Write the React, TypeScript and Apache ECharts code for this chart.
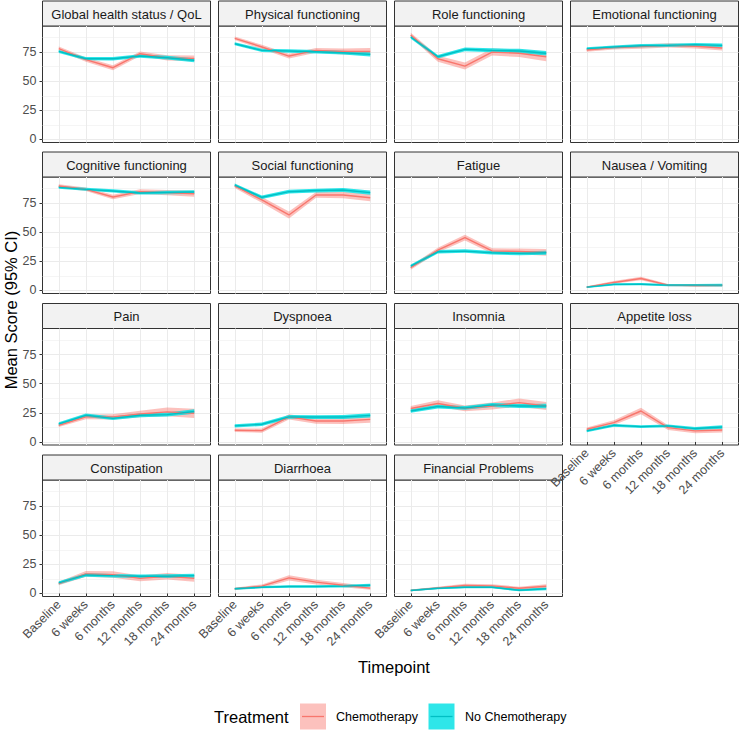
import React, { useEffect, useRef } from "react";
import * as echarts from "echarts";

const domains = [
  "Global health status / QoL",
  "Physical functioning",
  "Role functioning",
  "Emotional functioning",
  "Cognitive functioning",
  "Social functioning",
  "Fatigue",
  "Nausea / Vomiting",
  "Pain",
  "Dyspnoea",
  "Insomnia",
  "Appetite loss",
  "Constipation",
  "Diarrhoea",
  "Financial Problems",
];

const timepoints = ["Baseline", "6 weeks", "6 months", "12 months", "18 months", "24 months"];
const xTicks = [1, 2, 3, 4, 5, 6];
const yMajorTicks = [0, 25, 50, 75];
const yMinorTicks = [12.5, 37.5, 62.5, 87.5];

const chemoMean = [
  [78, 68.5, 61.6, 73.6, 70, 69.6],
  [86.8, 79.4, 71.6, 76.5, 75.5, 75.5],
  [89.7, 69.3, 63, 75, 74, 71],
  [76.8, 78.8, 79.7, 80.8, 80, 78.5],
  [89.7, 86.8, 80.2, 84.8, 84, 83],
  [89.7, 77.7, 64.8, 82, 82, 79.6],
  [19.5, 34.7, 45.3, 34, 33.5, 32.7],
  [2.9, 6.9, 10.3, 4.6, 4.3, 4.4],
  [14.3, 21.5, 21.5, 24, 25.8, 24.6],
  [10, 9.7, 21.5, 18, 18, 19.4],
  [28.7, 33, 28.9, 30.9, 33.8, 30.9],
  [10.9, 16.6, 26.6, 12.3, 9.5, 10.3],
  [8.5, 16.8, 16.2, 13, 14.8, 13],
  [4, 6.3, 13.4, 9.7, 7.1, 4.6],
  [2.6, 4.8, 6.8, 6.5, 4.5, 6.2],
];

const chemoHalfCI = [
  [1.8, 1.8, 2.2, 2, 2.3, 2.5],
  [1.5, 1.8, 2, 2, 2.5, 3],
  [2, 2.5, 3, 3, 3.3, 3.8],
  [1.5, 1.5, 1.8, 1.8, 2, 2.2],
  [1.5, 1.5, 2, 2, 2.2, 2.5],
  [1.8, 2.5, 3, 2.5, 2.8, 3],
  [1.8, 2, 2.5, 2.3, 2.5, 2.8],
  [0.8, 1.2, 1.5, 1, 1, 1.2],
  [1.5, 2, 2.3, 2.8, 3.8, 4],
  [1.5, 1.8, 2.3, 2.3, 2.5, 2.8],
  [2.2, 2.8, 2.5, 3, 3.5, 3.5],
  [1.5, 2, 2.8, 2, 2, 2.2],
  [1.5, 2.5, 2.8, 2.5, 2.8, 3],
  [1, 1.5, 2.2, 2, 1.8, 1.5],
  [0.8, 1, 1.5, 1.5, 1.3, 1.8],
];

const noChemoMean = [
  [75.6, 69.3, 69.3, 71.6, 70.2, 68],
  [82.2, 76.5, 75.9, 75.3, 74.5, 73],
  [88, 71, 77.4, 76.5, 76, 74],
  [78, 79.4, 80.5, 80.8, 81.4, 80.8],
  [88.5, 86.8, 85.4, 83.7, 84.2, 84.5],
  [90.5, 80, 84.8, 85.8, 86.3, 84],
  [21, 33.2, 33.8, 32.4, 31.8, 32.4],
  [2.9, 5.2, 5.4, 4.6, 4.6, 4.6],
  [15.5, 22.9, 20.3, 22.9, 23.5, 26.1],
  [13.8, 15.2, 21.5, 21.4, 21.4, 22.8],
  [26.6, 30.4, 29.2, 31.8, 30.9, 30.9],
  [9.5, 14.3, 13.2, 13.8, 11.5, 12.9],
  [9.1, 15.9, 15.3, 14.8, 14.8, 15.3],
  [4, 5.4, 6, 6, 6.3, 7.1],
  [2.6, 4.5, 5.4, 5.4, 2.8, 4],
];

const noChemoHalfCI = [
  [1.3, 1.4, 1.5, 1.5, 1.6, 1.7],
  [1.3, 1.4, 1.5, 1.5, 1.6, 1.8],
  [1.5, 1.5, 1.6, 1.7, 1.8, 1.9],
  [1.2, 1.3, 1.4, 1.4, 1.5, 1.6],
  [1.2, 1.3, 1.4, 1.4, 1.5, 1.6],
  [1.4, 1.5, 1.6, 1.6, 1.7, 1.9],
  [1.4, 1.5, 1.5, 1.5, 1.6, 1.7],
  [0.8, 1, 1, 1, 1, 1.1],
  [1.4, 1.5, 1.5, 1.6, 1.7, 1.9],
  [1.4, 1.5, 1.6, 1.6, 1.7, 1.8],
  [1.5, 1.6, 1.6, 1.7, 1.8, 1.9],
  [1.1, 1.2, 1.2, 1.2, 1.3, 1.5],
  [1.3, 1.5, 1.5, 1.5, 1.6, 1.7],
  [0.9, 1, 1, 1, 1.1, 1.3],
  [0.8, 0.9, 1, 1, 1, 1.2],
];

const FONT = "'Liberation Sans', Arial, Helvetica, sans-serif";
const CHEMO_LINE = "#F8766D";
const CHEMO_FILL = "rgba(248,118,109,0.45)";
const NOCHEMO_LINE = "#00BFC4";
const NOCHEMO_FILL = "rgba(0,224,228,0.82)";

const colLeft = [42.5, 218.5, 394.5, 570.5];
const stripTop = [1, 152, 303.5, 455];
const PANEL_W = 168;
const STRIP_H = 25;
const PANEL_H = 116.5;

function ribbon(mean: number[], ci: number[], fill: string, gridIdx: number) {
  return {
    type: "custom",
    xAxisIndex: gridIdx,
    yAxisIndex: gridIdx * 2,
    clip: true,
    silent: true,
    data: [[1, mean[0]]],
    renderItem: (_params: any, api: any) => {
      const pts: number[][] = [];
      for (let i = 0; i < mean.length; i++) pts.push(api.coord([xTicks[i], mean[i] + ci[i]]));
      for (let i = mean.length - 1; i >= 0; i--) pts.push(api.coord([xTicks[i], mean[i] - ci[i]]));
      return { type: "polygon", shape: { points: pts }, style: { fill } };
    },
  };
}

function line(mean: number[], color: string, gridIdx: number) {
  return {
    type: "line",
    xAxisIndex: gridIdx,
    yAxisIndex: gridIdx * 2,
    symbol: "none",
    silent: true,
    data: mean.map((v, i) => [xTicks[i], v]),
    lineStyle: { color, width: 1.4 },
    itemStyle: { color },
  };
}

export default function App() {
  const ref = useRef<HTMLDivElement>(null);
  useEffect(() => {
    if (!ref.current) return;
    const chart = echarts.init(ref.current, undefined, { renderer: "svg" });
    const grid: any[] = [];
    const xAxis: any[] = [];
    const yAxis: any[] = [];
    const series: any[] = [];
    const graphic: any[] = [];

    domains.forEach((name, p) => {
      const row = Math.floor(p / 4);
      const col = p % 4;
      const left = colLeft[col];
      const top = stripTop[row] + STRIP_H;
      const isBottom = p >= 11;
      const isLeft = col === 0;
      grid.push({
        left,
        top,
        width: PANEL_W,
        height: PANEL_H,
        show: true,
        backgroundColor: "#FFFFFF",
        borderColor: "#333333",
        borderWidth: 1,
        containLabel: false,
      });
      xAxis.push({
        type: "value",
        gridIndex: p,
        min: 0.4,
        max: 6.6,
        axisLine: { show: false },
        axisTick: { show: isBottom, length: 3, customValues: xTicks, lineStyle: { color: "#333333", width: 1 } },
        axisLabel: {
          show: isBottom,
          customValues: xTicks,
          rotate: 45,
          margin: 6,
          color: "#4D4D4D",
          fontSize: 12.5,
          fontFamily: FONT,
          formatter: (v: number) => timepoints[Math.round(v) - 1] ?? "",
        },
        splitLine: { show: true, lineStyle: { color: "#EBEBEB", width: 1 } },
      });
      yAxis.push({
        type: "value",
        gridIndex: p,
        min: -2.6,
        max: 97.4,
        position: "left",
        axisLine: { show: false },
        axisTick: { show: isLeft, length: 3, customValues: yMajorTicks, lineStyle: { color: "#333333", width: 1 } },
        axisLabel: {
          show: isLeft,
          customValues: yMajorTicks,
          margin: 6,
          color: "#4D4D4D",
          fontSize: 12.5,
          fontFamily: FONT,
        },
        splitLine: { show: true, lineStyle: { color: "#EBEBEB", width: 1 } },
      });
      yAxis.push({
        type: "value",
        gridIndex: p,
        min: -2.6,
        max: 97.4,
        position: "left",
        axisLine: { show: false },
        axisTick: { show: false, customValues: yMinorTicks },
        axisLabel: { show: false, customValues: yMinorTicks },
        splitLine: { show: true, lineStyle: { color: "#EFEFEF", width: 0.6 } },
      });
      series.push(ribbon(chemoMean[p], chemoHalfCI[p], CHEMO_FILL, p));
      series.push(ribbon(noChemoMean[p], noChemoHalfCI[p], NOCHEMO_FILL, p));
      series.push(line(chemoMean[p], CHEMO_LINE, p));
      series.push(line(noChemoMean[p], NOCHEMO_LINE, p));

      graphic.push({
        type: "rect",
        shape: { x: left, y: stripTop[row], width: PANEL_W, height: STRIP_H },
        style: { fill: "#F2F2F2", stroke: "#333333", lineWidth: 1 },
      });
      graphic.push({
        type: "text",
        x: left + PANEL_W / 2,
        y: stripTop[row] + STRIP_H / 2 + 0.5,
        style: {
          text: name,
          fontSize: 13,
          fontFamily: FONT,
          fill: "#1A1A1A",
          textAlign: "center",
          textVerticalAlign: "middle",
          align: "center",
          verticalAlign: "middle",
        },
      });
    });

    graphic.push({
      type: "text",
      x: 11,
      y: 310,
      rotation: Math.PI / 2,
      style: {
        text: "Mean Score (95% CI)",
        fontSize: 16.5,
        fontFamily: FONT,
        fill: "#000000",
        textAlign: "center",
        textVerticalAlign: "middle",
        align: "center",
        verticalAlign: "middle",
      },
    });
    graphic.push({
      type: "text",
      x: 394,
      y: 667,
      style: {
        text: "Timepoint",
        fontSize: 16.5,
        fontFamily: FONT,
        fill: "#000000",
        textAlign: "center",
        textVerticalAlign: "middle",
        align: "center",
        verticalAlign: "middle",
      },
    });

    const legendY = 716.5;
    graphic.push({
      type: "text",
      x: 214,
      y: legendY,
      style: {
        text: "Treatment",
        fontSize: 16.5,
        fontFamily: FONT,
        fill: "#000000",
        textAlign: "left",
        textVerticalAlign: "middle",
        align: "left",
        verticalAlign: "middle",
      },
    });
    const keys = [
      { x: 300, fill: CHEMO_FILL, stroke: CHEMO_LINE, label: "Chemotherapy", lx: 336 },
      { x: 428.5, fill: NOCHEMO_FILL, stroke: NOCHEMO_LINE, label: "No Chemotherapy", lx: 465 },
    ];
    keys.forEach((k) => {
      graphic.push({
        type: "rect",
        shape: { x: k.x, y: legendY - 13, width: 26, height: 26 },
        style: { fill: k.fill },
      });
      graphic.push({
        type: "line",
        shape: { x1: k.x + 2, y1: legendY, x2: k.x + 24, y2: legendY },
        style: { stroke: k.stroke, lineWidth: 1.3 },
      });
      graphic.push({
        type: "text",
        x: k.lx,
        y: legendY,
        style: {
          text: k.label,
          fontSize: 12.5,
          fontFamily: FONT,
          fill: "#000000",
          textAlign: "left",
          textVerticalAlign: "middle",
          align: "left",
          verticalAlign: "middle",
        },
      });
    });

    chart.setOption({
      animation: false,
      backgroundColor: "#FFFFFF",
      grid,
      xAxis,
      yAxis,
      series,
      graphic,
    });
    return () => chart.dispose();
  }, []);
  return (
    <div
      ref={ref}
      style={{ position: "fixed", left: 0, top: 0, width: 740, height: 731, background: "#FFFFFF" }}
    />
  );
}
